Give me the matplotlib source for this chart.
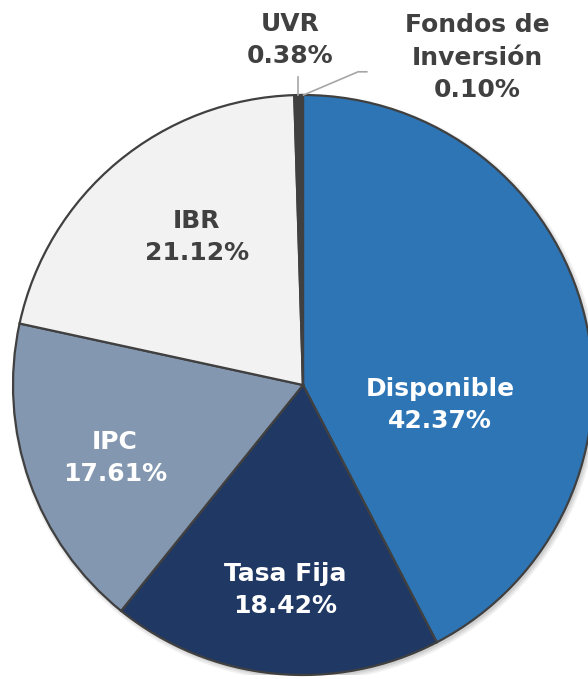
import numpy as np
import matplotlib.pyplot as plt
from matplotlib.patches import Circle

plt.rcParams["font.family"] = "DejaVu Sans"

labels = ["Disponible", "Tasa Fija", "IPC", "IBR", "UVR", "Fondos de\nInversión"]
values = [42.37, 18.42, 17.61, 21.12, 0.38, 0.10]
colors = ["#2E75B6", "#203864", "#8497B0", "#F2F2F2", "#404040", "#7F7F7F"]
text_colors = ["white", "white", "white", "#404040", "#404040", "#404040"]

fig = plt.figure(figsize=(5.88, 6.79), dpi=100)
# center at pixel (303, 385), radius 290
ax = fig.add_axes([13/588, 4/679, 580/588, 580/679])

# soft shadow under the pie
for k, a in enumerate([0.06, 0.06, 0.08]):
    ax.add_patch(Circle((0.008, -0.010), 1.0 + 0.006 * (2 - k), color="black",
                        alpha=a, lw=0, zorder=0))

wedges, _ = ax.pie(values, colors=colors, startangle=90, counterclock=False,
                   radius=1, wedgeprops=dict(edgecolor="#404040", linewidth=1.6))
ax.set_xlim(-1, 1)
ax.set_ylim(-1, 1)
ax.set_aspect("equal")
ax.axis("off")

# label positions (data coords)
pos = [(0.472, -0.069), (-0.062, -0.707), (-0.648, -0.252),
       (-0.366, 0.510), (-0.045, 1.19), (0.60, 1.128)]

for i in range(len(values)):
    txt = labels[i] + "\n" + "%.2f%%" % values[i]
    ax.text(pos[i][0], pos[i][1], txt, ha="center", va="center",
            fontsize=18, fontweight="bold", color=text_colors[i],
            linespacing=1.45, clip_on=False)

# leader lines for small slices
cum = np.cumsum([0] + values)
for i, ty in [(4, 1.062), (5, 1.08)]:
    mid = 90 - 3.6 * (cum[i] + values[i] / 2)
    x0, y0 = np.cos(np.radians(mid)), np.sin(np.radians(mid))
    if i == 4:
        ax.plot([x0, x0], [y0, ty], color="#A6A6A6", lw=1.2, clip_on=False)
    else:
        ax.plot([x0 + 0.005, 0.19, 0.22], [y0, ty, ty], color="#A6A6A6",
                lw=1.2, clip_on=False)

fig.savefig("out.png", dpi=100)
